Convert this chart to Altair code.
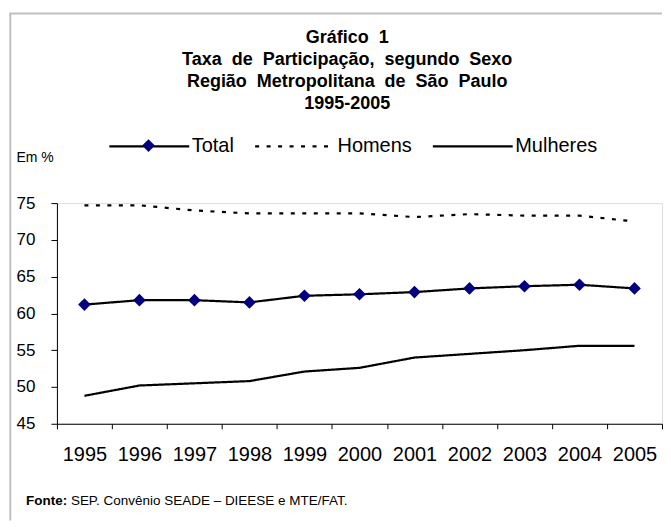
import altair as alt
import pandas as pd

years = ["1995", "1996", "1997", "1998", "1999", "2000", "2001", "2002", "2003", "2004", "2005"]
total = [61.2, 61.8, 61.8, 61.5, 62.4, 62.6, 62.9, 63.4, 63.7, 63.9, 63.4]
homens = [74.7, 74.7, 74.0, 73.6, 73.6, 73.6, 73.1, 73.5, 73.3, 73.3, 72.5]
mulheres = [48.8, 50.2, 50.5, 50.8, 52.1, 52.6, 54.0, 54.5, 55.0, 55.6, 55.6]
series = ["Total", "Homens", "Mulheres"]

title_lines = [
    "Gráfico \u00a01",
    "Taxa \u00a0de \u00a0Participação, \u00a0segundo \u00a0Sexo",
    "Região \u00a0Metropolitana \u00a0de \u00a0São \u00a0Paulo",
    "1995-2005",
]
y_title = "Em %"
fonte_bold = "Fonte:"
fonte_text = "SEP. Convênio SEADE – DIEESE e MTE/FAT."

rows = []
for name, vals in zip(series, [total, homens, mulheres]):
    for yr, v in zip(years, vals):
        rows.append({"ano": yr, "valor": v, "serie": name})
df = pd.DataFrame(rows)

FONT = "Liberation Sans"
W = 606
H = 221

x_enc = alt.X(
    "ano:N",
    scale=alt.Scale(type="band", domain=years, paddingInner=0, paddingOuter=0),
    axis=alt.Axis(
        title=None, labelAngle=0, tickBand="extent", labelFontSize=20, labelFont=FONT,
        labelColor="black", labelPadding=16, tickSize=5, tickColor="black",
        domainColor="black", grid=False,
    ),
)
y_enc = alt.Y(
    "valor:Q",
    scale=alt.Scale(domain=[45, 75], nice=False, zero=False),
    axis=alt.Axis(
        values=[45, 50, 55, 60, 65, 70, 75], title=y_title, titleAngle=0,
        titleX=-41, titleY=-46, titleAlign="left", titleBaseline="middle",
        titleFontSize=14, titleFontWeight="normal", titleFont=FONT, titleColor="black",
        labelFontSize=17, labelFont=FONT, labelColor="black", labelPadding=16,
        tickSize=6, tickColor="black", domainColor="black", grid=False,
    ),
)

base = alt.Chart(df)

lines = base.mark_line(color="black", strokeWidth=2.2).encode(
    x=x_enc, y=y_enc,
    strokeDash=alt.StrokeDash(
        "serie:N",
        scale=alt.Scale(domain=series, range=[[1, 0], [4, 7.5], [1, 0]]),
        legend=alt.Legend(
            title=None, orient="none", legendX=51, legendY=-98.6, direction="horizontal",
            symbolType="stroke", symbolSize=6400, symbolStrokeWidth=2.2,
            symbolStrokeColor="black", symbolOpacity=1,
            labelFontSize=20, labelFont=FONT, labelColor="black", labelOffset=1,
            columnPadding=16, labelLimit=300,
        ),
    ),
)

points = base.transform_filter(alt.datum.serie == "Total").mark_point(
    filled=True, color="#000080", size=160, opacity=1
).encode(
    x=x_enc, y=y_enc,
    shape=alt.Shape(
        "serie:N",
        scale=alt.Scale(domain=["Total"], range=["diamond"]),
        legend=alt.Legend(
            title=None, orient="none", legendX=85.2, legendY=-64.1,
            symbolSize=160, symbolFillColor="#000080", symbolStrokeColor="#000080",
            symbolStrokeWidth=0, symbolOpacity=1, labelExpr="''", labelOffset=0,
        ),
    ),
)

one = pd.DataFrame({"k": [0]})
frame_left = alt.Chart(one).mark_rule(color="#c0c0c0", strokeWidth=2).encode(
    x=alt.value(-46.7), y=alt.value(-190), y2=alt.value(318)
)
frame_top = alt.Chart(one).mark_rule(color="#c0c0c0", strokeWidth=2).encode(
    x=alt.value(-47.7), x2=alt.value(W), y=alt.value(-190)
)

title = alt.Chart(one).mark_text(
    text=title_lines, font=FONT, fontSize=18, fontWeight="bold", align="center",
    baseline="alphabetic", lineHeight=22, color="black",
).encode(x=alt.value(290.7), y=alt.value(-160))

fonte1 = alt.Chart(one).mark_text(
    text=fonte_bold, font=FONT, fontSize=13.5, fontWeight="bold", align="left",
    baseline="alphabetic", color="black",
).encode(x=alt.value(-31), y=alt.value(302))
fonte2 = alt.Chart(one).mark_text(
    text=fonte_text, font=FONT, fontSize=13.5, align="left",
    baseline="alphabetic", color="black",
).encode(x=alt.value(14), y=alt.value(302))

chart = alt.layer(
    frame_left, frame_top, title, lines, points, fonte1, fonte2
).properties(
    width=W, height=H,
    padding={"left": 0, "top": 4, "right": 0, "bottom": 0},
).resolve_legend(shape="independent", strokeDash="independent").configure_view(
    stroke=None
).configure(background="white")

chart.save("out.html", embed_options={"renderer": "svg", "actions": False})
